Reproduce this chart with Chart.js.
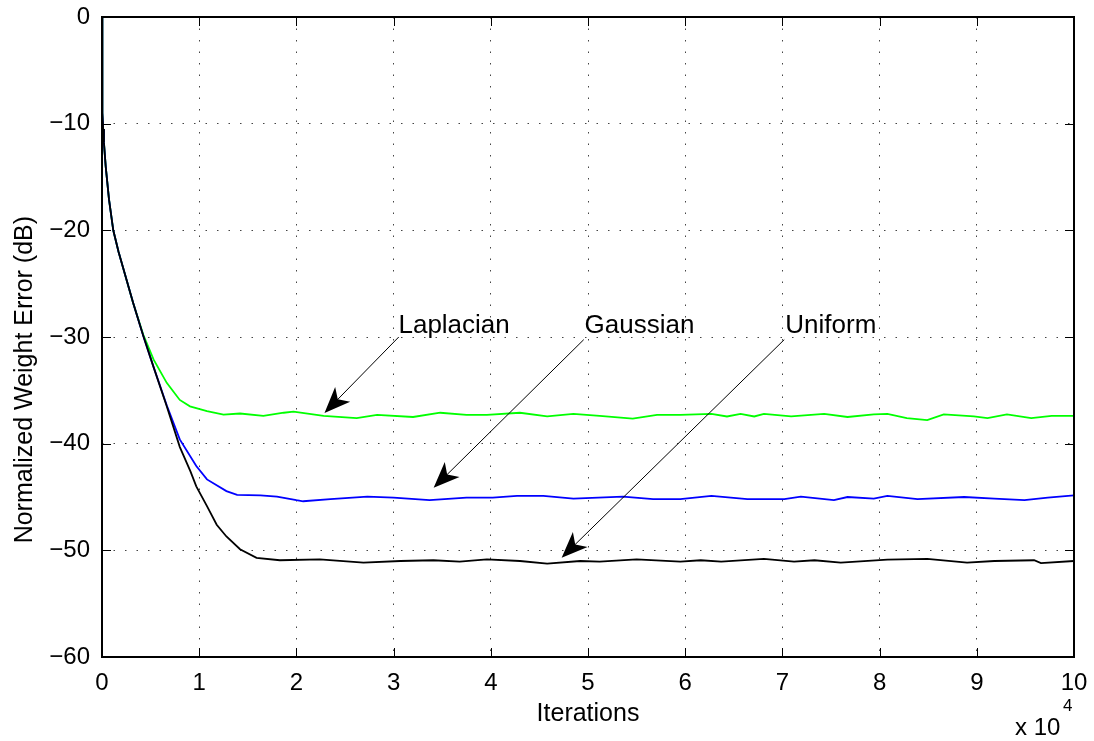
<!DOCTYPE html>
<html>
<head>
<meta charset="utf-8">
<script src="https://cdn.jsdelivr.net/npm/chart.js@4"></script>
<style>
  html, body { margin: 0; padding: 0; background: #fff; }
</style>
</head>
<body>
<canvas id="myChart" width="1094" height="741"></canvas>
<script>
// iterations in units of 10^4, error in dB
const uniformX = [0, 0.001, 0.003, 0.007, 0.012, 0.02, 0.038, 0.072, 0.116, 0.17,
  0.22, 0.32, 0.425, 0.53, 0.666, 0.8, 0.91, 0.97, 1.08, 1.18,
  1.28, 1.42, 1.59, 1.83, 2.24, 2.69, 3.07, 3.41, 3.68, 3.96,
  4.3, 4.58, 4.92, 5.12, 5.5, 5.95, 6.16, 6.37, 6.81, 7.12,
  7.33, 7.6, 8.08, 8.49, 8.9, 9.18, 9.59, 9.66, 10];
const uniformY = [0, -3, -6, -9, -10.5, -11.8, -14, -17.1, -20, -22,
  -23.6, -26.8, -29.9, -32.8, -36.5, -40.3, -42.6, -44.0, -45.85, -47.6,
  -48.7, -49.9, -50.7, -50.93, -50.84, -51.15, -51.0, -50.93, -51.05, -50.84,
  -51.0, -51.25, -51.0, -51.05, -50.84, -51.05, -50.93, -51.05, -50.8, -51.05,
  -50.93, -51.15, -50.87, -50.8, -51.15, -51.0, -50.93, -51.2, -51.0];

const gaussX = [0, 0.001, 0.003, 0.007, 0.012, 0.02, 0.038, 0.072, 0.116, 0.17,
  0.22, 0.32, 0.425, 0.53, 0.666, 0.8, 0.97, 1.08, 1.28, 1.39,
  1.63, 1.8, 2.0, 2.07, 2.35, 2.73, 3.0, 3.37, 3.75, 4.02,
  4.27, 4.54, 4.85, 5.36, 5.67, 5.95, 6.27, 6.64, 7.02, 7.19,
  7.53, 7.67, 7.94, 8.08, 8.39, 8.87, 9.18, 9.49, 9.73, 10];
const gaussY = [0, -3, -6, -9, -10.5, -11.8, -14, -17.1, -20, -22,
  -23.6, -26.8, -29.9, -32.8, -36.4, -39.6, -42.1, -43.35, -44.45, -44.8,
  -44.85, -44.97, -45.3, -45.4, -45.2, -44.97, -45.05, -45.3, -45.05, -45.05,
  -44.9, -44.9, -45.15, -44.97, -45.2, -45.2, -44.9, -45.2, -45.2, -44.97,
  -45.3, -45.0, -45.15, -44.9, -45.2, -45.0, -45.15, -45.3, -45.05, -44.85];

const lapX = [0, 0.001, 0.003, 0.007, 0.012, 0.02, 0.038, 0.072, 0.116, 0.17,
  0.22, 0.32, 0.425, 0.53, 0.666, 0.8, 0.905, 1.08, 1.25, 1.42,
  1.66, 1.87, 1.97, 2.28, 2.62, 2.83, 3.2, 3.48, 3.75, 3.96,
  4.3, 4.58, 4.85, 5.12, 5.46, 5.71, 5.95, 6.27, 6.43, 6.57,
  6.71, 6.81, 7.09, 7.43, 7.67, 7.94, 8.08, 8.28, 8.49, 8.66,
  8.97, 9.11, 9.31, 9.56, 9.77, 10];
const lapY = [0, -3, -6, -9, -10.5, -11.8, -14, -17.1, -20, -22,
  -23.6, -26.8, -29.8, -32.1, -34.3, -35.9, -36.5, -36.95, -37.27, -37.17,
  -37.4, -37.1, -37.0, -37.4, -37.6, -37.3, -37.5, -37.1, -37.3, -37.3,
  -37.1, -37.45, -37.2, -37.4, -37.65, -37.3, -37.3, -37.2, -37.45, -37.2,
  -37.45, -37.2, -37.45, -37.2, -37.5, -37.25, -37.2, -37.6, -37.8, -37.25,
  -37.45, -37.6, -37.25, -37.6, -37.4, -37.4];

// text arrows (data coordinates)
const noteText = ["Laplacian", "Gaussian", "Uniform"];
const noteX = [3.05, 4.965, 7.03];
const noteY = [-29.6, -29.6, -29.6];
const arrowFromX = [3.053, 4.956, 7.019];
const arrowFromY = [-30.0, -30.25, -30.25];
const arrowToX = [2.289, 3.412, 4.729];
const arrowToY = [-37.12, -44.14, -50.69];

const FONT = "'Liberation Sans', Arial, Helvetica, sans-serif";

const toPoints = (xs, ys) => xs.map((v, i) => ({ x: v, y: ys[i] }));

const decorations = {
  id: "decorations",
  afterDatasetsDraw(chart) {
    const { ctx, chartArea: a, scales: { x, y } } = chart;
    ctx.save();

    // inward ticks on all four sides
    ctx.strokeStyle = "#000";
    ctx.lineWidth = 1;
    ctx.beginPath();
    x.ticks.forEach((t) => {
      const px = Math.round(x.getPixelForValue(t.value)) + 0.5;
      ctx.moveTo(px, a.bottom); ctx.lineTo(px, a.bottom - 9);
      ctx.moveTo(px, a.top); ctx.lineTo(px, a.top + 9);
    });
    y.ticks.forEach((t) => {
      const py = Math.round(y.getPixelForValue(t.value)) + 0.5;
      ctx.moveTo(a.left, py); ctx.lineTo(a.left + 9, py);
      ctx.moveTo(a.right, py); ctx.lineTo(a.right - 9, py);
    });
    ctx.stroke();

    // axes box
    ctx.lineWidth = 2;
    ctx.strokeRect(a.left, a.top, a.right - a.left, a.bottom - a.top);

    // arrows + labels
    ctx.fillStyle = "#000";
    ctx.font = "26px " + FONT;
    ctx.textAlign = "left";
    ctx.textBaseline = "alphabetic";
    noteText.forEach((txt, i) => {
      ctx.fillText(txt, x.getPixelForValue(noteX[i]), y.getPixelForValue(noteY[i]));
      const x0 = x.getPixelForValue(arrowFromX[i]);
      const y0 = y.getPixelForValue(arrowFromY[i]);
      const x1 = x.getPixelForValue(arrowToX[i]);
      const y1 = y.getPixelForValue(arrowToY[i]);
      const len = Math.hypot(x0 - x1, y0 - y1);
      const ux = (x0 - x1) / len, uy = (y0 - y1) / len;
      const nx = -uy, ny = ux;
      ctx.lineWidth = 1;
      ctx.beginPath();
      ctx.moveTo(x0, y0);
      ctx.lineTo(x1 + ux * 18, y1 + uy * 18);
      ctx.stroke();
      ctx.beginPath();
      ctx.moveTo(x1, y1);
      ctx.lineTo(x1 + ux * 26 + nx * 10.5, y1 + uy * 26 + ny * 10.5);
      ctx.lineTo(x1 + ux * 19, y1 + uy * 19);
      ctx.lineTo(x1 + ux * 26 - nx * 10.5, y1 + uy * 26 - ny * 10.5);
      ctx.closePath();
      ctx.fill();
    });

    // y axis title
    ctx.save();
    ctx.translate(32, y.getPixelForValue(-34));
    ctx.rotate(-Math.PI / 2);
    ctx.textAlign = "center";
    ctx.font = "25px " + FONT;
    ctx.fillText("Normalized Weight Error (dB)", 0, 0);
    ctx.restore();

    // x 10^4 multiplier
    ctx.font = "24px " + FONT;
    ctx.fillText("x 10", a.right - 59, 735);
    ctx.font = "17px " + FONT;
    ctx.fillText("4", a.right - 11, 711);

    ctx.restore();
  },
};

const ctx = document.getElementById("myChart");

const chart = new Chart(ctx, {
  type: "line",
  data: {
    datasets: [
      {
        label: "Uniform",
        data: toPoints(uniformX, uniformY),
        borderColor: "#000000",
      },
      {
        label: "Gaussian",
        data: toPoints(gaussX, gaussY),
        borderColor: "#0000ff",
      },
      {
        label: "Laplacian",
        data: toPoints(lapX, lapY),
        borderColor: "#00ff00",
      },
    ],
  },
  options: {
    responsive: false,
    animation: false,
    layout: { padding: { top: 17, right: 20, left: 0, bottom: 0 } },
    elements: {
      line: { borderWidth: 1.8, tension: 0 },
      point: { radius: 0 },
    },
    plugins: {
      legend: { display: false },
      tooltip: { enabled: false },
    },
    scales: {
      x: {
        type: "linear",
        min: 0,
        max: 10,
        ticks: {
          stepSize: 1,
          padding: 12,
          color: "#000",
          font: { family: FONT, size: 24 },
        },
        grid: { color: "#444", lineWidth: 1, drawTicks: false },
        border: { display: false, dash: [1.5, 10] },
        title: {
          display: true,
          text: "Iterations",
          color: "#000",
          font: { family: FONT, size: 25 },
          padding: { top: 0, bottom: 12 },
        },
        afterFit: (scale) => {
          scale.height = 84;
          scale.paddingLeft = 0;
          scale.paddingRight = 0;
        },
      },
      y: {
        min: -60,
        max: 0,
        ticks: {
          stepSize: 10,
          padding: 12,
          color: "#000",
          font: { family: FONT, size: 24 },
          callback: (v) => (v < 0 ? "\u2212" + Math.abs(v) : String(v)),
        },
        grid: { color: "#444", lineWidth: 1, drawTicks: false },
        border: { display: false, dash: [1.5, 10] },
        afterFit: (scale) => {
          scale.width = 102;
          scale.paddingTop = 0;
          scale.paddingBottom = 0;
        },
      },
    },
  },
  plugins: [decorations],
});
</script>
</body>
</html>
